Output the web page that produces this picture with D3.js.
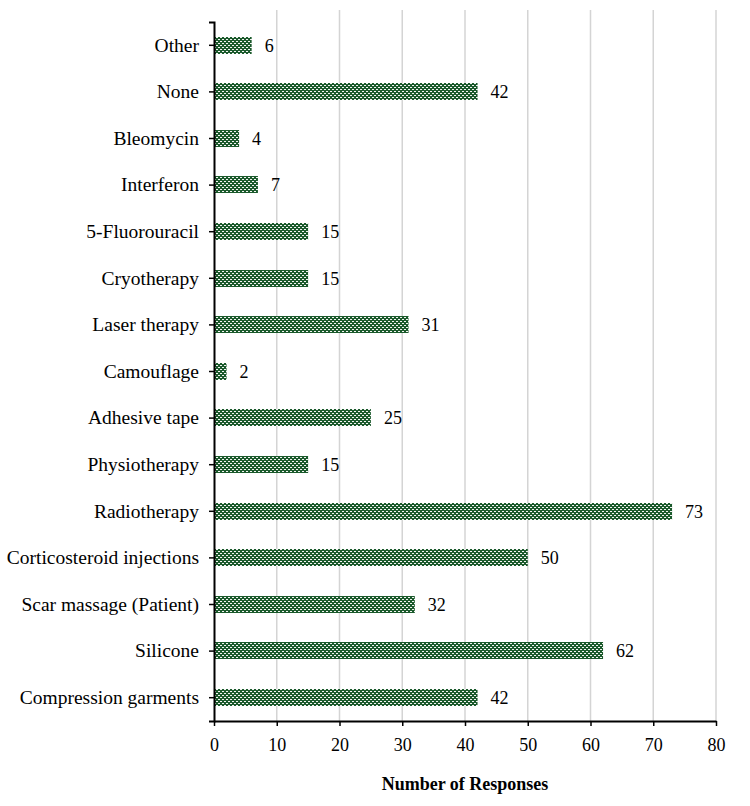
<!DOCTYPE html>
<html>
<head>
<meta charset="utf-8">
<script src="https://cdn.jsdelivr.net/npm/d3@7"></script>
<style>
  body { margin: 0; background: #fff; }
  text { font-family: "Liberation Serif", "Times New Roman", serif; fill: #000; }
</style>
</head>
<body>
<div id="chart"></div>
<script>
var categories = ['Other', 'None', 'Bleomycin', 'Interferon', '5-Fluorouracil', 'Cryotherapy',
  'Laser therapy', 'Camouflage', 'Adhesive tape', 'Physiotherapy', 'Radiotherapy',
  'Corticosteroid injections', 'Scar massage (Patient)', 'Silicone', 'Compression garments']
var responses = [6, 42, 4, 7, 15, 15, 31, 2, 25, 15, 73, 50, 32, 62, 42]
var xTicks = [0, 10, 20, 30, 40, 50, 60, 70, 80]

var width = 750, height = 806
var margin = {left: 214, right: 34, top: 22, bottom: 85}
var green = '#1b5a2c'

var svg = d3.select('#chart').append('svg')
  .attr('width', width).attr('height', height)

// checker pattern for the bars
var pat = svg.append('defs').append('pattern')
  .attr('id', 'check')
  .attr('patternUnits', 'userSpaceOnUse')
  .attr('width', 4).attr('height', 4)
pat.append('rect').attr('width', 4).attr('height', 4).attr('fill', green)
pat.append('rect').attr('x', 0).attr('y', 1).attr('width', 2).attr('height', 1).attr('fill', '#f2f5f2')
pat.append('rect').attr('x', 2).attr('y', 3).attr('width', 2).attr('height', 1).attr('fill', '#f2f5f2')
pat.selectAll('rect').attr('shape-rendering', 'crispEdges')

var x = d3.scaleLinear().domain([0, 80]).range([margin.left, width - margin.right])
var y = d3.scaleBand().domain(categories).range([margin.top, height - margin.bottom]).paddingInner(0.63).paddingOuter(0.315)

// gridlines
svg.append('g').selectAll('line').data(xTicks.slice(1)).join('line')
  .attr('x1', x).attr('x2', x)
  .attr('y1', 10).attr('y2', height - margin.bottom)
  .attr('stroke', '#d4d4d4').attr('stroke-width', 1.5)

svg.append('g').selectAll('rect').data(categories).join('rect')
  .attr('x', x(0))
  .attr('y', d => Math.round(y(d)))
  .attr('width', (d, i) => x(responses[i]) - x(0))
  .attr('height', Math.round(y.bandwidth()))
  .attr('fill', 'url(#check)')

svg.append('g').selectAll('text').data(categories).join('text')
  .attr('x', (d, i) => x(responses[i]) + 13)
  .attr('y', d => y(d) + y.bandwidth() / 2)
  .attr('dy', '0.35em')
  .attr('font-size', 18)
  .text((d, i) => responses[i])

// x axis
var xAxis = svg.append('g')
  .attr('transform', 'translate(0,' + (height - margin.bottom) + ')')
  .call(d3.axisBottom(x).tickValues(xTicks).tickSize(5).tickSizeOuter(0))
xAxis.select('.domain').attr('stroke', '#000').attr('stroke-width', 2)
xAxis.selectAll('.tick line').attr('stroke', '#000').attr('stroke-width', 1.5)
xAxis.selectAll('.tick text').attr('font-size', 18).attr('dy', '1.2em')
  .attr('font-family', '"Liberation Serif", serif')

// y axis
var yAxis = svg.append('g')
  .attr('transform', 'translate(' + margin.left + ',0)')
  .call(d3.axisLeft(y).tickSize(5).tickSizeOuter(5))
yAxis.select('.domain').attr('stroke', '#000').attr('stroke-width', 2)
yAxis.selectAll('.tick line').attr('stroke', '#000').attr('stroke-width', 1.5)
yAxis.selectAll('.tick text').attr('font-size', 19.5).attr('x', -15)
  .attr('font-family', '"Liberation Serif", serif')

svg.append('text')
  .attr('x', (x(0) + x(80)) / 2)
  .attr('y', 790)
  .attr('text-anchor', 'middle')
  .attr('font-size', 18)
  .attr('font-weight', 'bold')
  .text('Number of Responses')
</script>
</body>
</html>
